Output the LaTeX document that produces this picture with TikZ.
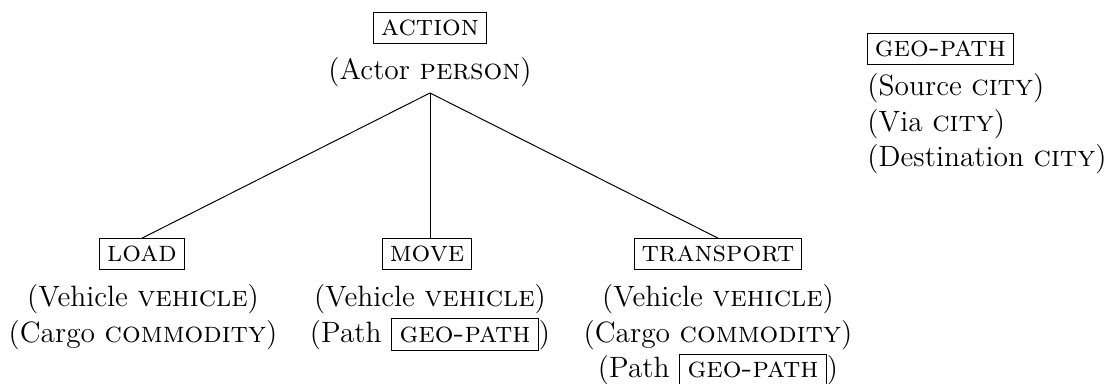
\documentclass[tikz,border=0pt]{standalone}
\begin{document}
\begin{tikzpicture}[x=0.4081pt, y=-0.4081pt,
  every node/.style={font=\fontsize{12}{14.5}\selectfont},
  framebox/.style={draw, line width=0.4pt, inner sep=3pt},
  attrs/.style={align=center, anchor=north, inner sep=0pt},
  attrsleft/.style={align=left, anchor=north west, inner sep=0pt},
  branch/.style={line width=0.4pt}]
  \useasboundingbox (0,0) rectangle (1109,383);

  % root frame
  \node[framebox] (action) at (430,28) {\textsc{action}};
  \node[attrs] (actortext) at (430,57) {(Actor \textsc{person})};
  \coordinate (apex) at (430,93);

  % sub-frames
  \node[framebox] (load) at (142,254) {\textsc{load}};
  \node[framebox] (move) at (427,254) {\textsc{move}};
  \node[framebox] (transport) at (718,254) {\textsc{transport}};

  \node[attrs] (loadattr) at (143,284)
    {(Vehicle \textsc{vehicle})\\(Cargo \textsc{commodity})};
  \node[attrs] (moveattr) at (430,284)
    {(Vehicle \textsc{vehicle})\\(Path \fbox{\textsc{geo-path}})};
  \node[attrs] (transportattr) at (718,284)
    {(Vehicle \textsc{vehicle})\\(Cargo \textsc{commodity})\\(Path \fbox{\textsc{geo-path}})};

  % branches of the hierarchy
  \draw[branch] (apex) -- (load.north);
  \draw[branch] (apex) -- (apex |- move.north);
  \draw[branch] (apex) -- (transport.north);

  % separate frame definition
  \node[framebox, anchor=south west] (geopath) at (867,65) {\textsc{geo-path}};
  \node[attrsleft] (geoattr) at (867,73)
    {(Source \textsc{city})\\(Via \textsc{city})\\(Destination \textsc{city})};
\end{tikzpicture}
\end{document}
